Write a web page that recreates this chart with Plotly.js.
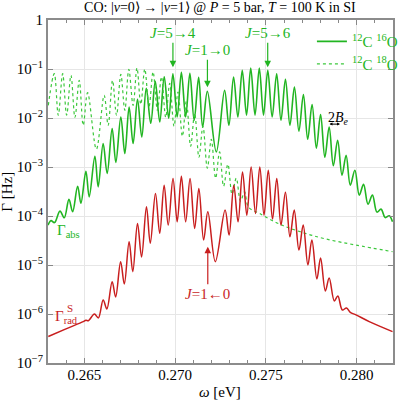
<!DOCTYPE html>
<html>
<head>
<meta charset="utf-8">
<script src="https://cdn.plot.ly/plotly-3.0.1.min.js"></script>
<style>
  html, body { margin: 0; padding: 0; background: #fff; }
  #coChart { width: 399px; height: 400px; }
</style>
</head>
<body>
<div id="coChart"></div>
<script>
// 12C 16O absorption (solid green)
const omegaAbs16 = [0.26300, 0.263165, 0.263357, 0.263659, 0.263896, 0.264154, 0.264357, 0.264632, 0.264813, 0.265088,
  0.265269, 0.265582, 0.265764, 0.266038, 0.266258, 0.266533, 0.266736, 0.267011, 0.267231, 0.267467,
  0.267687, 0.267929, 0.268165, 0.268412, 0.268659, 0.268907, 0.269154, 0.269401, 0.269648, 0.269879,
  0.270115, 0.270346, 0.270582, 0.270813, 0.271049, 0.271297, 0.271516, 0.271775, 0.272269, 0.272725,
  0.272962, 0.273220, 0.273456, 0.273698, 0.273934, 0.274165, 0.274401, 0.274637, 0.274868, 0.275104,
  0.275346, 0.275593, 0.275830, 0.276077, 0.276324, 0.276571, 0.276819, 0.277066, 0.277302, 0.277544,
  0.277780, 0.278011, 0.278247, 0.278484, 0.278714, 0.278951, 0.279192, 0.279418, 0.279648, 0.279901,
  0.280143, 0.280379, 0.280621, 0.280868, 0.281115, 0.281341, 0.281571, 0.281791, 0.281973];
const gammaAbs16 = [6.53e-5, 8.05e-5, 7.34e-5, 1.26e-4, 9.19e-5, 2.18e-4, 1.22e-4, 4.06e-4, 1.83e-4, 8.21e-4,
  2.46e-4, 1.66e-3, 3.93e-4, 3.01e-3, 7.38e-4, 6.08e-3, 1.24e-3, 1.05e-2, 1.88e-3, 1.67e-2,
  3.01e-3, 2.40e-2, 4.10e-3, 4.03e-2, 7.80e-3, 5.59e-2, 8.30e-3, 6.90e-2, 9.86e-3, 7.94e-2,
  1.05e-2, 8.53e-2, 1.05e-2, 8.13e-2, 8.98e-3, 6.75e-2, 6.56e-3, 3.50e-2, 2.03e-3, 3.66e-2,
  7.10e-3, 6.84e-2, 1.05e-2, 9.36e-2, 1.14e-2, 1.04e-1, 1.14e-2, 1.04e-1, 1.14e-2, 9.36e-2,
  1.05e-2, 8.02e-2, 8.98e-3, 6.14e-2, 7.10e-3, 4.28e-2, 5.36e-3, 3.00e-2, 3.68e-3, 1.88e-2,
  2.42e-3, 1.17e-2, 1.58e-3, 6.56e-3, 1.06e-3, 3.52e-3, 6.81e-4, 1.74e-3, 4.26e-4, 8.61e-4,
  2.67e-4, 4.41e-4, 1.75e-4, 2.67e-4, 1.20e-4, 1.38e-4, 9.27e-5, 1.01e-4, 7.62e-5];

// 12C 18O absorption (dotted green)
const omegaAbs18 = [0.263016, 0.263346, 0.263566, 0.263808, 0.264027, 0.264264, 0.264484, 0.264720, 0.264940, 0.265181,
  0.265665, 0.266093, 0.266313, 0.266555, 0.266775, 0.267011, 0.267231, 0.267451, 0.267687, 0.267901,
  0.268110, 0.268330, 0.268566, 0.268786, 0.269027, 0.269247, 0.269484, 0.269703, 0.269940, 0.270159,
  0.270401, 0.270621, 0.270857, 0.271077, 0.271313, 0.271533, 0.271775, 0.271995, 0.272231, 0.272451,
  0.272670, 0.272907, 0.273137, 0.273368, 0.273604, 0.273824, 0.274044, 0.274648, 0.275747, 0.277028,
  0.278313, 0.279962, 0.281973];
const gammaAbs18 = [1.81e-2, 8.02e-2, 1.14e-2, 8.02e-2, 1.14e-2, 7.41e-2, 1.03e-2, 5.86e-2, 7.10e-3, 3.29e-2,
  2.31e-3, 2.90e-2, 7.10e-3, 5.86e-2, 1.14e-2, 7.76e-2, 1.44e-2, 9.82e-2, 1.81e-2, 1.05e-1,
  1.90e-2, 1.00e-1, 1.73e-2, 8.73e-2, 1.44e-2, 6.90e-2, 1.03e-2, 5.09e-2, 6.78e-3, 3.39e-2,
  4.24e-3, 2.19e-2, 2.65e-3, 1.25e-2, 1.58e-3, 6.78e-3, 9.46e-4, 3.68e-3, 5.92e-4, 2.03e-3,
  4.06e-4, 1.14e-3, 2.79e-4, 5.92e-4, 2.01e-4, 3.11e-4, 1.52e-4, 1.13e-4, 6.84e-5, 4.59e-5,
  3.39e-5, 2.55e-5, 1.87e-5];

// radiative rate (red)
const omegaRad = [0.263016, 0.263989, 0.264940, 0.265088, 0.265225, 0.265555, 0.265775, 0.266038, 0.266242, 0.266533,
  0.266725, 0.267000, 0.267203, 0.267467, 0.267670, 0.267929, 0.268154, 0.268423, 0.268632, 0.268918,
  0.269154, 0.269396, 0.269621, 0.269885, 0.270115, 0.270346, 0.270582, 0.270824, 0.271077, 0.271308,
  0.271571, 0.271802, 0.272214, 0.272753, 0.272973, 0.273231, 0.273467, 0.273714, 0.273951, 0.274187,
  0.274429, 0.274665, 0.274896, 0.275132, 0.275363, 0.275599, 0.275830, 0.276077, 0.276324, 0.276560,
  0.276819, 0.277055, 0.277313, 0.277533, 0.277808, 0.278011, 0.278275, 0.278484, 0.278769, 0.278962,
  0.279209, 0.279440, 0.279648, 0.279962, 0.280692, 0.281973];
const gammaRad = [3.47e-7, 4.98e-7, 7.00e-7, 7.48e-7, 7.31e-7, 1.00e-6, 8.33e-7, 1.94e-6, 1.27e-6, 4.57e-6,
  2.23e-6, 1.17e-5, 4.10e-6, 2.98e-5, 7.31e-6, 7.06e-5, 1.46e-5, 1.54e-4, 2.77e-5, 2.88e-4,
  4.43e-5, 4.26e-4, 6.53e-5, 5.83e-4, 7.62e-5, 6.50e-4, 7.62e-5, 5.83e-4, 5.58e-5, 3.65e-4,
  3.23e-5, 1.22e-4, 1.17e-5, 1.32e-4, 4.08e-5, 4.26e-4, 7.62e-5, 7.94e-4, 1.04e-4, 1.00e-3,
  1.13e-4, 1.00e-3, 1.04e-4, 8.61e-4, 8.65e-5, 5.83e-4, 6.53e-5, 3.07e-4, 3.77e-5, 1.32e-4,
  2.02e-5, 6.53e-5, 1.00e-5, 3.23e-5, 5.19e-6, 1.39e-5, 2.95e-6, 5.43e-6, 1.85e-6, 2.34e-6,
  1.21e-6, 1.33e-6, 1.08e-6, 9.59e-7, 7.00e-7, 4.38e-7];

const yTickVals = [1e-7, 1e-6, 1e-5, 1e-4, 1e-3, 1e-2, 1e-1, 1];
const yTickText = ['10<sup>\u22127</sup>', '10<sup>\u22126</sup>', '10<sup>\u22125</sup>', '10<sup>\u22124</sup>',
  '10<sup>\u22123</sup>', '10<sup>\u22122</sup>', '10<sup>\u22121</sup>', '1'];

const green = '#22b522';
const red = '#c81e1e';
const serif = '"Liberation Serif", "Times New Roman", serif';

const traces = [
  {
    x: omegaAbs16, y: gammaAbs16, type: 'scatter', mode: 'lines',
    name: '<sup>12</sup>C <sup>16</sup>O',
    line: { color: green, width: 1.6, shape: 'spline', smoothing: 1 }
  },
  {
    x: omegaAbs18, y: gammaAbs18, type: 'scatter', mode: 'lines',
    name: '<sup>12</sup>C <sup>18</sup>O',
    line: { color: '#3cc83c', width: 1.2, dash: 'dot', shape: 'spline', smoothing: 1 }
  },
  {
    x: omegaRad, y: gammaRad, type: 'scatter', mode: 'lines',
    showlegend: false,
    line: { color: red, width: 1.5, shape: 'spline', smoothing: 1 }
  }
];

function arrowNote(text, x, y, ay, color) {
  return {
    x: x, y: Math.log10(y), xref: 'x', yref: 'y', text: text,
    showarrow: true, ax: 0, ay: ay, arrowhead: 2, arrowsize: 1.1, arrowwidth: 1.2,
    arrowcolor: color, font: { family: serif, size: 15, color: color }
  };
}

function label(text, x, y, size, color) {
  return {
    x: x, y: Math.log10(y), xref: 'x', yref: 'y', text: text, showarrow: false,
    xanchor: 'left', yanchor: 'middle', font: { family: serif, size: size, color: color }
  };
}

const layout = {
  width: 399, height: 400,
  margin: { l: 48, r: 6, t: 20, b: 37, autoexpand: false },
  paper_bgcolor: '#fff', plot_bgcolor: '#fff',
  font: { family: serif, size: 15, color: '#000' },
  title: {
    text: 'CO: |<i>v</i>=0\u27E9 \u2192 |<i>v</i>=1\u27E9 @ <i>P</i> = 5 bar, <i>T</i> = 100 K in SI',
    font: { family: serif, size: 14, color: '#000' },
    x: 0.551, xanchor: 'center', y: 0.983, yanchor: 'middle'
  },
  showlegend: true,
  legend: {
    x: 0.765, y: 0.985, xanchor: 'left', yanchor: 'top',
    bgcolor: 'rgba(0,0,0,0)', font: { family: serif, size: 15, color: green },
    tracegroupgap: 0, itemwidth: 30
  },
  xaxis: {
    type: 'linear', range: [0.263, 0.282], automargin: false,
    tickmode: 'linear', tick0: 0.265, dtick: 0.005, tickformat: '.3f',
    ticks: 'inside', ticklen: 5, tickcolor: '#888', tickwidth: 1, ticklabelstandoff: -3,
    minor: { dtick: 0.001, tick0: 0.265, ticks: 'inside', ticklen: 3, tickcolor: '#888', showgrid: false },
    showline: true, linecolor: '#8c8c8c', linewidth: 2, mirror: 'ticks',
    showgrid: true, gridcolor: '#e6e6e6', gridwidth: 1, zeroline: false,
    tickfont: { family: serif, size: 15, color: '#000' }
  },
  yaxis: {
    type: 'log', range: [-7, 0], automargin: false,
    tickmode: 'array', tickvals: yTickVals, ticktext: yTickText,
    ticks: 'inside', ticklen: 5, tickcolor: '#888', tickwidth: 1,
    showline: true, linecolor: '#8c8c8c', linewidth: 2, mirror: 'ticks',
    showgrid: true, gridcolor: '#e6e6e6', gridwidth: 1, zeroline: false,
    tickfont: { family: serif, size: 15, color: '#000' }
  },
  annotations: [
    { text: '\u0393 [Hz]', xref: 'paper', yref: 'paper', x: -0.121, y: 0.5, textangle: -90,
      xanchor: 'center', yanchor: 'middle',
      showarrow: false, font: { family: serif, size: 15 } },
    { text: '<i>\u03C9</i> [eV]', xref: 'paper', yref: 'paper', x: 0.4986, y: -0.0855,
      xanchor: 'center', yanchor: 'middle',
      showarrow: false, font: { family: serif, size: 15 } },
    arrowNote('<i>J</i>=5\u21924', 0.26988, 0.108, -34, green),
    arrowNote('<i>J</i>=1\u21920', 0.27178, 0.0422, -37, green),
    arrowNote('<i>J</i>=5\u21926', 0.27510, 0.108, -34, green),
    arrowNote('<i>J</i>=1\u21900', 0.27180, 2.36e-5, 47, red),
    label('2<i>B</i><sub><i>e</i></sub>', 0.27832, 9.9e-3, 14, '#000'),
    { text: '', x: 0.27908, y: Math.log10(7.5e-3), showarrow: true, ax: -12, ay: 0,
      arrowside: 'end+start', arrowhead: 2, arrowsize: 0.6, arrowwidth: 1, arrowcolor: '#000' },
    label('\u0393<sub>abs</sub>', 0.26338, 4.9e-5, 15, green),
    label('\u0393<sub>rad</sub>', 0.26328, 8.6e-7, 15, red),
    label('S', 0.26394, 1.3e-6, 11, red)
  ]
};

Plotly.newPlot('coChart', traces, layout, { displayModeBar: false, staticPlot: true });
</script>
</body>
</html>
